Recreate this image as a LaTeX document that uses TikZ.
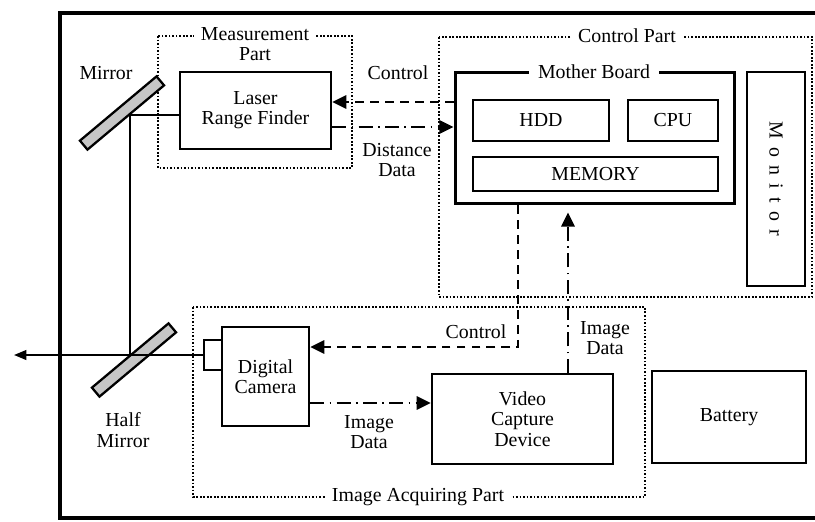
\documentclass[tikz,border=0pt]{standalone}
\usepackage{fontspec}
\setmainfont{Liberation Serif}
\usetikzlibrary{arrows.meta}
\tikzset{blk/.style={draw,line width=1.5pt,align=center,inner sep=0pt},
 thinblk/.style={draw,line width=1.1pt,inner sep=0pt},
 partbox/.style={line width=1pt,densely dotted},
 parttitle/.style={fill=white,inner xsep=4pt,inner ysep=1pt,align=center},
 mirrorbox/.style={draw,line width=1.3pt,fill=gray!45,minimum width=2cm,minimum height=0.2cm,rotate=40},
 beam/.style={line width=1.1pt},
 ctrl/.style={line width=1.5pt,dash pattern=on 5pt off 3.5pt,-{Triangle[length=8pt,width=7.5pt]}},
 datarrow/.style={line width=1.5pt,dash pattern=on 8pt off 3pt on 1pt off 3pt,-{Triangle[length=8pt,width=7.5pt]}},
 }

\begin{document}
\begin{tikzpicture}[x=0.02cm,y=-0.02cm,font=\fontsize{11.3}{11.5}\selectfont]
        \useasboundingbox (0,0) rectangle (815,521);
        \clip (0,0) rectangle (815,521);
        % outer case
        \draw[line width=2.3pt] (840,13) -- (60,13) -- (60,518) -- (840,518);
        % part boxes
        \draw[partbox] (158,36) rectangle (352,168);
        \draw[partbox] (439,37) rectangle (812,297);
        \draw[partbox] (193,307) rectangle (645,497);
        \node[parttitle] (mtitle) at (255,44) {Measurement\\Part};
        \node[parttitle] (ctitle) at (627,36) {Control Part};
        \node[parttitle] (ititle) at (418,497) {Image Acquiring Part};
        % blocks
        \node[blk,minimum width=3.02cm,minimum height=1.54cm] (lrf) at (255.5,110.5) {Laser\\Range Finder};
        \node[blk,line width=1.7pt,minimum width=5.6cm,minimum height=2.64cm] (mb) at (595,138) {};
        \node[parttitle,inner xsep=5pt] (mbtitle) at (594,72) {Mother Board};
        \node[thinblk,minimum width=2.72cm,minimum height=0.82cm] (hdd) at (541,120.5) {HDD};
        \node[thinblk,minimum width=1.8cm,minimum height=0.82cm] (cpu) at (673,120.5) {CPU};
        \node[thinblk,minimum width=4.9cm,minimum height=0.68cm] (mem) at (595.5,174) {MEMORY};
        \node[blk,minimum width=1.16cm,minimum height=4.28cm] (mon) at (776,179) {};
        \node[rotate=-90] (montext) at (mon.center) {M\,\ o\,\ n\,\ i\,\ t\,\ o\,\ r};
        \node[blk,minimum width=1.74cm,minimum height=1.98cm] (cam) at (265.5,376.5) {Digital\\Camera};
        \node[thinblk,line width=1.3pt,minimum width=0.36cm,minimum height=0.6cm] (lens) at (213,355) {};
        \node[blk,minimum width=3.62cm,minimum height=1.8cm] (vcd) at (522.5,419) {Video\\Capture\\Device};
        \node[blk,minimum width=3.08cm,minimum height=1.84cm] (bat) at (729,417) {Battery};
        % optics
        \node[mirrorbox] (mirror) at (122,113) {};
        \node[mirrorbox] (halfmirror) at (134,360) {};
        \node (mirrorlbl) at (106,73) {Mirror};
        \node[align=center] (halflbl) at (123,430) {Half\\Mirror};
        \coordinate (hit1) at (130,115);
        \coordinate (hit2) at (130,355);
        \coordinate (out) at (14,355);
        \draw[beam] (hit1) -- (hit1 -| lrf.west);
        \draw[beam] (hit1) -- (hit2);
        \draw[beam,-{Triangle[length=7pt,width=5.5pt]}] (lens.west) -- (out);
        % signals
        \draw[ctrl] ([yshift=0.17cm]lrf.east -| mb.west) -- ([yshift=0.17cm]lrf.east);
        \draw[datarrow] ([yshift=-0.33cm]lrf.east) -- ([yshift=-0.33cm]lrf.east -| mb.west);
        \node (ctrllbl1) at (398,73) {Control};
        \node[align=center] (distlbl) at (397,160) {Distance\\Data};
        \coordinate (ctrlfoot) at ([xshift=-1.54cm]mb.south);
        \coordinate (camin) at ([yshift=0.59cm]cam.east);
        \draw[ctrl] (ctrlfoot) |- (camin);
        \node (ctrllbl2) at (476,332) {Control};
        \coordinate (idtop) at ([xshift=0.91cm]vcd.north);
        \draw[datarrow,shorten >=4pt] (idtop) -- (idtop |- mb.south);
        \node[align=center] (imglbl1) at (605,338) {Image\\Data};
        \coordinate (camout) at ([yshift=-0.53cm]cam.east);
        \draw[datarrow] (camout) -- (camout -| vcd.west);
        \node[align=center] (imglbl2) at (369,432) {Image\\Data};
    \end{tikzpicture}
\end{document}
